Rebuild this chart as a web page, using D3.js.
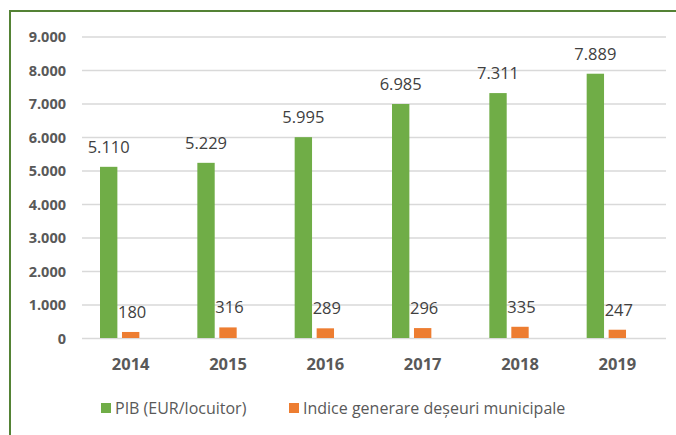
<!DOCTYPE html>
<html>
<head>
<meta charset="utf-8">
<script src="https://cdn.jsdelivr.net/npm/d3@7"></script>
<style>
  html, body { margin: 0; padding: 0; background: #fff; }
  svg { display: block; }
</style>
</head>
<body>
<svg id="chart" width="676" height="435"></svg>
<script>
// Years on the category axis
const years = ["2014", "2015", "2016", "2017", "2018", "2019"];
// GDP per inhabitant (EUR)
const pib = [5110, 5229, 5995, 6985, 7311, 7889];
// Municipal waste generation index
const indice = [180, 316, 289, 296, 335, 247];
// Value axis ticks
const yTicks = [0, 1000, 2000, 3000, 4000, 5000, 6000, 7000, 8000, 9000];
// Series names for the legend
const seriesNames = ["PIB (EUR/locuitor)", "Indice generare deșeuri municipale"];

const colors = ["#70AD47", "#ED7D31"];
const textColor = "#595959";
const fmt = v => d3.format(",")(v).replace(/,/g, ".");

const svg = d3.select("#chart");
const W = 676, H = 435;

// Frame: only the left and top edges fall inside the view
svg.append("rect")
  .attr("x", 10).attr("y", 11)
  .attr("width", W + 20).attr("height", H + 20)
  .attr("fill", "#fff")
  .attr("stroke", "#548235").attr("stroke-width", 2);

const plot = { left: 82, right: 666, top: 36.5, bottom: 338 };

const y = d3.scaleLinear().domain([0, 9000]).range([plot.bottom, plot.top]);
const x0 = d3.scaleBand().domain(years).range([plot.left, plot.right]).padding(0);
// Three slots per year; the two series fill the first two
const x1 = d3.scaleBand().domain([0, 1, 2])
  .range([x0.bandwidth() * 0.185, x0.bandwidth() * 0.815])
  .paddingInner(0.21);

// Gridlines + value axis labels
const yAxis = d3.axisLeft(y).tickValues(yTicks).tickFormat(fmt)
  .tickSize(-(plot.right - plot.left)).tickPadding(16);
const gy = svg.append("g").attr("transform", `translate(${plot.left},0)`).call(yAxis);
gy.select(".domain").remove();
gy.selectAll(".tick line").attr("stroke", "#d9d9d9").attr("stroke-width", 1.3);
gy.selectAll(".tick text")
  .attr("fill", textColor)
  .attr("font-family", "'Open Sans', sans-serif")
  .attr("font-weight", "bold")
  .attr("font-size", 14.5)
  .attr("dy", "0.36em");

// Category axis labels
const xAxis = d3.axisBottom(x0).tickSize(0).tickPadding(20);
const gx = svg.append("g").attr("transform", `translate(0,${plot.bottom})`).call(xAxis);
gx.select(".domain").remove();
gx.selectAll(".tick text")
  .attr("fill", textColor)
  .attr("font-family", "'Open Sans', sans-serif")
  .attr("font-weight", "bold")
  .attr("font-size", 16.5);

const series = [pib, indice];
series.forEach((vals, si) => {
  const g = svg.append("g");
  g.selectAll("rect").data(vals).join("rect")
    .attr("x", (d, i) => x0(years[i]) + x1(si))
    .attr("width", x1.bandwidth())
    .attr("y", d => y(d))
    .attr("height", d => y(0) - y(d))
    .attr("fill", colors[si]);
  g.selectAll("text").data(vals).join("text")
    .attr("x", (d, i) => x0(years[i]) + x1(si) + x1.bandwidth() / 2 + (si === 1 ? 1.5 : 0))
    .attr("y", d => y(d) - 14)
    .attr("text-anchor", "middle")
    .attr("fill", "#404040")
    .attr("font-family", "'Open Sans', sans-serif")
    .attr("font-size", 16.5)
    .text(d => fmt(d));
});

// Legend
const legend = svg.append("g").attr("transform", "translate(0,408)");
const legendX = [101, 289];
seriesNames.forEach((name, i) => {
  legend.append("rect")
    .attr("x", legendX[i]).attr("y", -5)
    .attr("width", 10).attr("height", 10)
    .attr("fill", colors[i]);
  legend.append("text")
    .attr("x", legendX[i] + 14).attr("y", 0)
    .attr("dy", "0.35em")
    .attr("fill", textColor)
    .attr("font-family", "'Open Sans', sans-serif")
    .attr("font-size", 16)
    .text(name);
});
</script>
</body>
</html>
